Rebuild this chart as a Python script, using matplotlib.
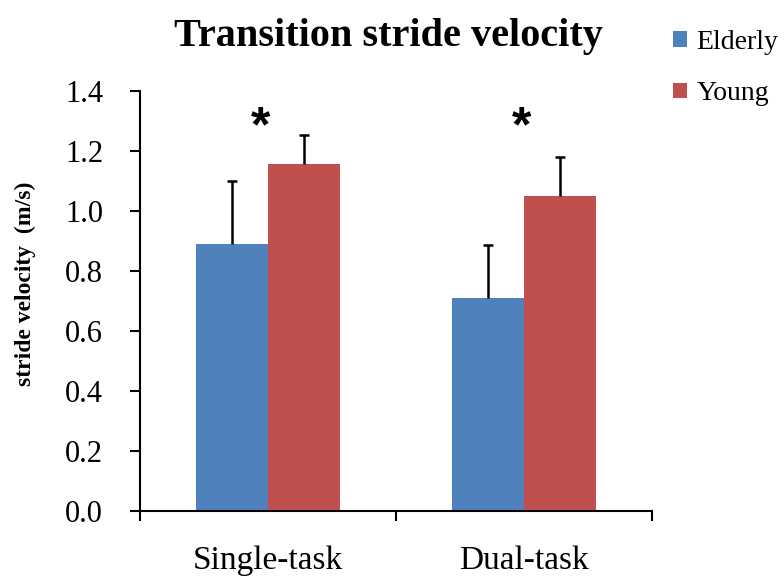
import numpy as np
import matplotlib
matplotlib.use('Agg')
import matplotlib.pyplot as plt

# data
categories = ['Single-task', 'Dual-task']
elderly = [0.89, 0.71]
young = [1.156, 1.051]
elderly_err = [0.209, 0.177]
young_err = [0.097, 0.129]
star_x = [-0.03, 0.99]
star_level = [1.275, 1.275]

plt.rcParams['font.family'] = ['Liberation Serif', 'DejaVu Serif']

fig = plt.figure(figsize=(7.84, 5.76), dpi=100)
ax = fig.add_axes([0.1786, 0.1128, 0.6530, 0.7292])

x = np.arange(len(categories))
w = 0.283
ekw = dict(ecolor='black', elinewidth=1.8, capsize=3.8, capthick=1.8)
b1 = ax.bar(x - w / 2, elderly, w, color='#4F81BD', label='Elderly',
            yerr=[[0, 0], elderly_err], error_kw=ekw)
b2 = ax.bar(x + w / 2, young, w, color='#C0504D', label='Young',
            yerr=[[0, 0], young_err], error_kw=ekw)
# only the upper half of the error bars is shown
for b in (b1, b2):
    b.errorbar.lines[1][0].set_visible(False)

# significance stars
for xi, s in zip(star_x, star_level):
    ax.text(xi, s, '*', ha='center', va='center', fontsize=36,
            family='Liberation Sans', fontweight='bold')

ax.set_xlim(-0.5, 1.5)
ax.set_ylim(0, 1.4)
ax.set_yticks(np.arange(0, 1.41, 0.2))
ax.set_yticklabels(['%.1f' % v for v in np.arange(0, 1.41, 0.2)], fontsize=22)
ax.set_xticks(x)
ax.set_xticklabels(categories, fontsize=24)
ax.set_xticks([-0.5, 0.5, 1.5], minor=True)
ax.tick_params(axis='x', which='major', length=0, pad=25)
ax.tick_params(axis='x', which='minor', length=7, width=1.5, direction='out')
ax.tick_params(axis='y', length=7.5, width=1.5, direction='out', pad=19)

for s in ['top', 'right']:
    ax.spines[s].set_visible(False)
for s in ['left', 'bottom']:
    ax.spines[s].set_linewidth(1.5)

fig.text(0.495, 0.937, 'Transition stride velocity', ha='center', va='center',
         fontsize=29, fontweight='bold')
fig.text(0.032, 0.508, 'stride velocity  (m/s)', rotation=90, ha='center', va='center',
         fontsize=17, fontweight='bold')

ax.legend(loc='upper left', bbox_to_anchor=(0.858, 0.948), bbox_transform=fig.transFigure,
          frameon=False, fontsize=20, handlelength=0.5, handleheight=0.5,
          handletextpad=0.35, labelspacing=0.95, borderaxespad=0, borderpad=0)

fig.savefig('out.png', dpi=100)
